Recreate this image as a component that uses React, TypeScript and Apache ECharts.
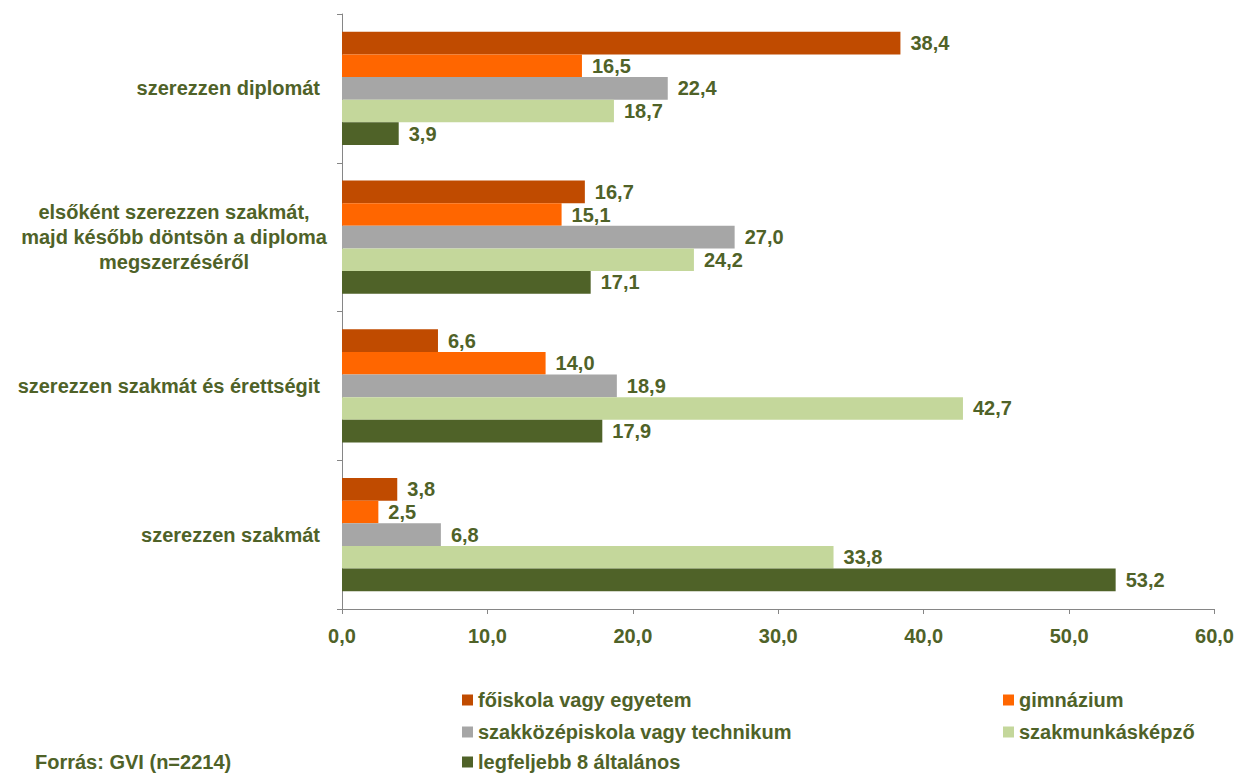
import React, { useEffect, useRef } from "react";
import * as echarts from "echarts";

const categories = [
  "szerezzen diplomát",
  "elsőként szerezzen szakmát,\nmajd később döntsön a diploma\nmegszerzéséről",
  "szerezzen szakmát és érettségit",
  "szerezzen szakmát",
];
const seriesNames = [
  "főiskola vagy egyetem",
  "gimnázium",
  "szakközépiskola vagy technikum",
  "szakmunkásképző",
  "legfeljebb 8 általános",
];
const foiskola = [38.4, 16.7, 6.6, 3.8];
const gimnazium = [16.5, 15.1, 14.0, 2.5];
const szakkozep = [22.4, 27.0, 18.9, 6.8];
const szakmunkas = [18.7, 24.2, 42.7, 33.8];
const altalanos = [3.9, 17.1, 17.9, 53.2];
const seriesValues = [foiskola, gimnazium, szakkozep, szakmunkas, altalanos];
const colors = ["#C04B00", "#FF6600", "#A6A6A6", "#C4D79B", "#4F6228"];
const xTicks = { min: 0, max: 60, interval: 10 };
const sourceText = "Forrás: GVI (n=2214)";

const TXT = "#4F6228";
const FONT = "'Liberation Sans', Arial, sans-serif";

export default function App() {
  const ref = useRef<HTMLDivElement>(null);
  useEffect(() => {
    if (!ref.current) return;
    const chart = echarts.init(ref.current, null, { renderer: "svg" });
    const legendPos = [
      [462, 690],
      [1003, 690],
      [462, 722],
      [1003, 722],
      [462, 752],
    ];
    chart.setOption({
      animation: false,
      textStyle: { fontFamily: FONT },
      grid: { left: 342, right: 21, top: 14, bottom: 164, containLabel: false },
      xAxis: {
        type: "value",
        min: xTicks.min,
        max: xTicks.max,
        interval: xTicks.interval,
        splitLine: { show: false },
        axisLine: { show: true, lineStyle: { color: "#868686", width: 1 } },
        axisTick: { show: true, length: 5, lineStyle: { color: "#868686" } },
        axisLabel: {
          margin: 17,
          color: TXT,
          fontSize: 20,
          fontWeight: "bold",
          fontFamily: FONT,
          formatter: (v: number) => v.toFixed(1).replace(".", ","),
        },
      },
      yAxis: {
        type: "category",
        data: categories,
        inverse: true,
        axisLine: { show: true, lineStyle: { color: "#868686", width: 1 } },
        axisTick: { show: true, length: 5, lineStyle: { color: "#868686" } },
        axisLabel: {
          margin: 22,
          color: TXT,
          fontSize: 20,
          fontWeight: "bold",
          fontFamily: FONT,
          align: "right",
          lineHeight: 25,
          formatter: (v: string) => (v.indexOf("\n") >= 0 ? `{c|${v}}` : v),
          rich: {
            c: {
              align: "center",
              width: 292,
              lineHeight: 25,
              fontSize: 20,
              fontWeight: "bold",
              color: TXT,
              fontFamily: FONT,
            },
          },
        },
      },
      legend: seriesNames.map((n, i) => ({
        data: [n],
        left: legendPos[i][0],
        top: legendPos[i][1],
        orient: "horizontal",
        icon: "rect",
        itemWidth: 11,
        itemHeight: 11,
        padding: 0,
        selectedMode: false,
        textStyle: { color: TXT, fontSize: 20, fontWeight: "bold", fontFamily: FONT },
      })),
      series: seriesNames.map((n, i) => ({
        name: n,
        type: "bar",
        data: seriesValues[i],
        barGap: "0%",
        barCategoryGap: "24%",
        itemStyle: { color: colors[i] },
        label: {
          show: true,
          position: "right",
          distance: 10,
          color: TXT,
          fontSize: 20,
          fontWeight: "bold",
          fontFamily: FONT,
          formatter: (p: any) => Number(p.value).toFixed(1).replace(".", ","),
        },
      })),
      graphic: [
        {
          type: "text",
          left: 35,
          top: 752,
          style: {
            text: sourceText,
            fill: TXT,
            fontSize: 20,
            fontWeight: "bold",
            fontFamily: FONT,
          },
        },
      ],
    });
    return () => chart.dispose();
  }, []);
  return (
    <div
      ref={ref}
      style={{ position: "fixed", left: 0, top: 0, width: 1237, height: 773, background: "#fff" }}
    />
  );
}
